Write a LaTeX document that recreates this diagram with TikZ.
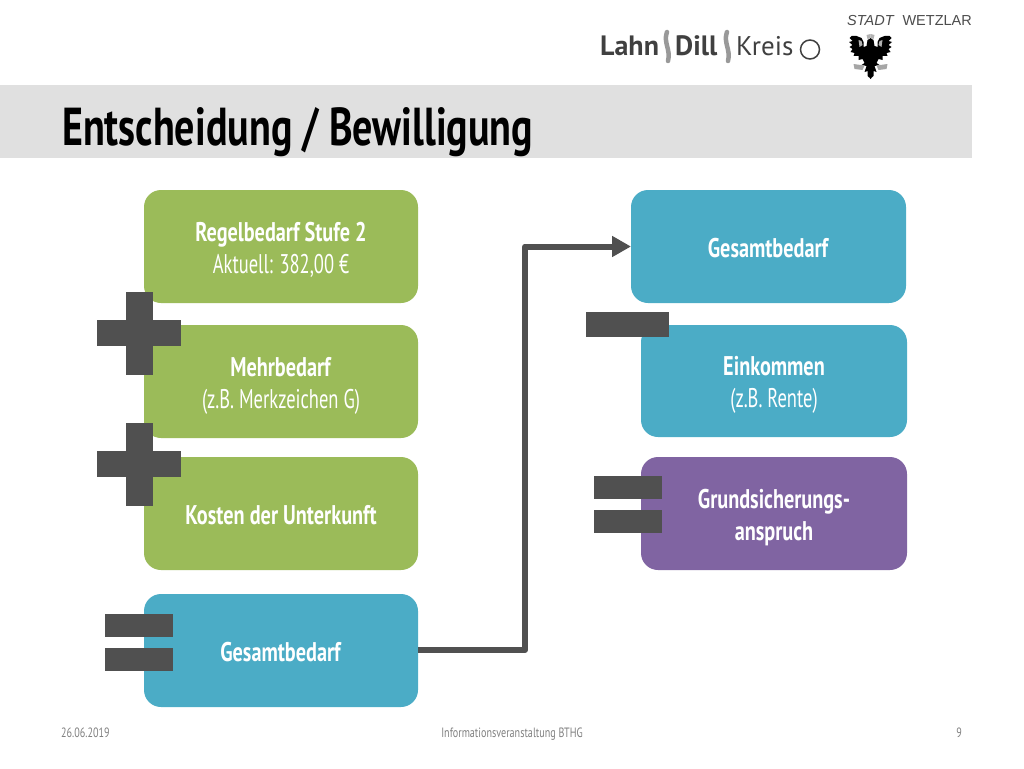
\documentclass[tikz,border=0pt]{standalone}
\usepackage{fontspec}
\setmainfont[FakeStretch=0.75]{PT Sans}
\newfontfamily\duenn[FakeStretch=0.685]{PT Sans}
\newfontfamily\logofont{PT Sans}
\newfontfamily\cityfont{Liberation Sans}
\usetikzlibrary{arrows.meta,positioning}
\definecolor{greenbox}{HTML}{9BBB59}
\definecolor{bluebox}{HTML}{4BACC6}
\definecolor{purplebox}{HTML}{8064A2}
\definecolor{signgray}{HTML}{505050}
\definecolor{bandgray}{HTML}{E0E0E0}
\newcommand{\zeileoben}{\rule{0pt}{27pt}}
\newcommand{\zeileein}{\rule{0pt}{22pt}}
\tikzset{
  bedarf/.style={rounded corners=17pt, minimum width=274pt, minimum height=113pt, align=center, text=white, inner sep=0pt, outer sep=0pt, font=\fontsize{27}{32}\selectfont},
  signbar/.style={fill=signgray, draw=none, inner sep=0pt},
  link/.style={-{Triangle[length=19pt,width=20pt]}, line width=6pt, draw=signgray, line join=round},
  footer/.style={text=black!50, font=\fontsize{13.5}{15}\selectfont, inner sep=0pt},
  logotext/.style={text=black!75, inner sep=0pt, font=\logofont\fontsize{27}{27}\selectfont},
  wave/.style={line width=4.5pt, draw=black!40, line cap=round}
}
\begin{document}
\begin{tikzpicture}[x=1pt,y=-1pt]
  \useasboundingbox (0,0) rectangle (1024,768);
  % head
  \fill[bandgray] (0,85) rectangle (972,158);
  \node[anchor=base west, inner sep=0pt, font=\fontsize{53.4}{54}\selectfont\bfseries] (title) at (62,145) {Entscheidung / Bewilligung};

  % logos
  \node[logotext, anchor=base west, font=\logofont\bfseries\fontsize{28}{28}\selectfont] (lahn) at (600,56) {Lahn};
  \node[logotext, anchor=base west, font=\logofont\bfseries\fontsize{28}{28}\selectfont] (dill) at (675,56) {Dill};
  \node[logotext, anchor=base west] (kreis) at (736,56) {Kreis};
  \draw[wave] (667,32) .. controls (663,42) and (671,50) .. (668,61);
  \draw[wave] (727,32) .. controls (723,42) and (731,50) .. (728,61);
  \draw[black!75, line width=1.5pt] (810,49.5) circle (9.5pt);
  \node[anchor=base east, inner sep=0pt, text=black!70, font=\cityfont\fontsize{14.5}{15}\selectfont] (stadt) at (972,26) {\textit{STADT}\hspace{8pt}WETZLAR};
  % eagle
  \foreach \mir in {1,-1}{
    \begin{scope}[shift={(870.5,0)}, xscale=\mir]
      \fill[black] (-0.5,38) -- (3,40) -- (4,46) -- (7,47) -- (7,42) -- (9,38) -- (14,36) -- (19,36) -- (21,38) -- (18,41) -- (21.5,42) -- (18,45) -- (21,47) -- (18,49) -- (20,52) -- (16,53) -- (17,56) -- (12,56) -- (12,60) -- (8,59) -- (6,63) -- (9,65) -- (4,66) -- (6,72) -- (3,71) -- (3,76) -- (-0.5,79) -- cycle;
      \fill[black!35] (6,65.5) -- (17,64) -- (16,69) -- (8,70) -- cycle;
      \fill[black!30] (0,34) -- (4,35) -- (3,39) -- (0,38) -- cycle;
      \fill[black!30] (8,45) -- (9,41) -- (12,40) -- (11,47) -- cycle;
    \end{scope}
  }

  % left column
  \node[bedarf, fill=greenbox, anchor=north west] (regel) at (144,190) {\zeileoben\textbf{Regelbedarf Stufe 2}\\{\duenn Aktuell: 382,00 €}};
  \node[bedarf, fill=greenbox, below=22pt of regel] (mehr) {\zeileoben\textbf{Mehrbedarf}\\{\duenn (z.B. Merkzeichen G)}};
  \node[bedarf, fill=greenbox, below=19pt of mehr] (kosten) {\zeileein\textbf{Kosten der Unterkunft}};
  \node[bedarf, fill=bluebox, below=24pt of kosten] (gesamtl) {\zeileein\textbf{Gesamtbedarf}};

  % right column
  \node[bedarf, fill=bluebox, anchor=north west, minimum width=275pt] (gesamtr) at (631,190) {\zeileein\textbf{Gesamtbedarf}};
  \node[bedarf, fill=bluebox, anchor=north west, minimum width=266pt, minimum height=112pt] (eink) at (641,325) {\zeileoben\textbf{Einkommen}\\{\duenn (z.B. Rente)}};
  \node[bedarf, fill=purplebox, anchor=north west, minimum width=266pt] (grund) at (641,457) {\zeileoben\textbf{Grundsicherungs-}\\\textbf{anspruch}};

  % plus signs
  \foreach \name/\ypos in {plusa/333,plusb/464}{
    \node[signbar, minimum width=84pt, minimum height=26pt] (\name h) at (139,\ypos) {};
    \node[signbar, minimum width=27pt, minimum height=83pt] (\name v) at (139,\ypos) {};
  }
  % minus sign
  \node[signbar, minimum width=83pt, minimum height=25pt] (minus) at (627.5,324.5) {};
  % equals signs
  \foreach \name/\xpos/\ytop/\ybot in {gleicha/139/625/659,gleichb/627.5/487.5/521.5}{
    \node[signbar, minimum width=68pt, minimum height=23pt] (\name t) at (\xpos,\ytop) {};
    \node[signbar, minimum width=68pt, minimum height=23pt] (\name b) at (\xpos,\ybot) {};
  }

  \coordinate (knick) at (525,650);
  \draw[link] (gesamtl.east |- knick) -- (knick) |- (gesamtr.west);

  % footer
  \node[footer, anchor=base west] (datum) at (61,737) {26.06.2019};
  \node[footer, anchor=base] (info) at (512,737) {Informationsveranstaltung BTHG};
  \node[footer, anchor=base east] (seite) at (962,737) {9};
\end{tikzpicture}
\end{document}
